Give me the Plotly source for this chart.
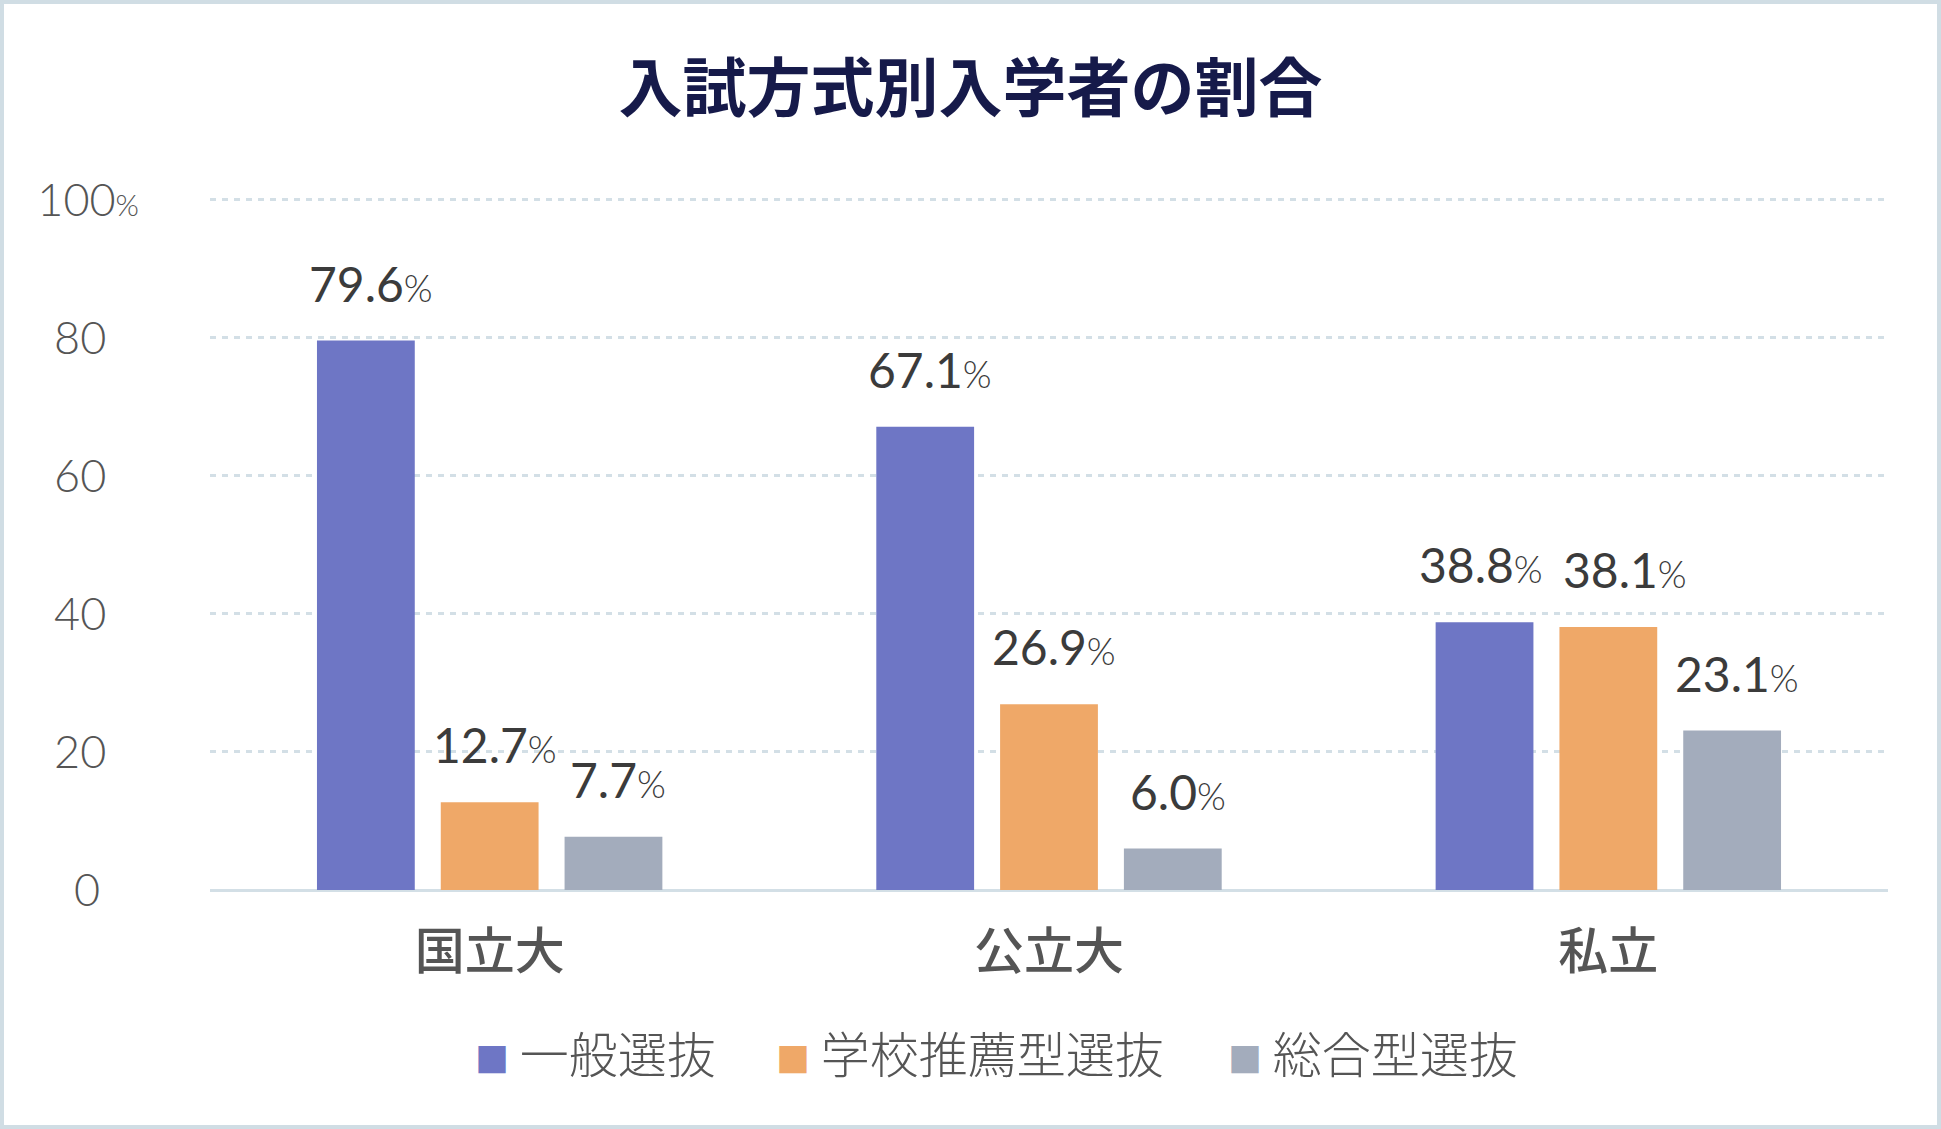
import plotly.graph_objects as go

# ---- data ----
categories = ["国立大", "公立大", "私立"]
series_names = ["一般選抜", "学校推薦型選抜", "総合型選抜"]
general = [79.6, 67.1, 38.8]
recommend = [12.7, 26.9, 38.1]
comprehensive = [7.7, 6.0, 23.1]
y_ticks = [0, 20, 40, 60, 80, 100]
title_text = "入試方式別入学者の割合"

series_values = [general, recommend, comprehensive]
colors = ["#6e76c5", "#efa868", "#a3acbc"]

W, H = 1941, 1129
ML, MR, MT, MB = 210, 53, 197, 239
PW = W - ML - MR
PH = H - MT - MB
BARGAP = 0.336
BARGROUPGAP = 0.21

CJK = "Noto Sans CJK JP"
NUM = "Lato"

fig = go.Figure()

for name, vals, col in zip(series_names, series_values, colors):
    fig.add_trace(go.Bar(
        x=categories, y=vals, name=name,
        marker=dict(color=col, line=dict(width=0)),
        hoverinfo="skip", showlegend=False,
    ))

# value labels above bars (offset to each bar's slot within its group)
n_series = len(series_values)
slot_px = (1 - BARGAP) * PW / len(categories) / n_series
for si, vals in enumerate(series_values):
    for ci, (cat, v) in enumerate(zip(categories, vals)):
        nudge = 5
        if si < n_series - 1 and abs(series_values[si + 1][ci] - v) < 3:
            nudge = -4
        if si > 0 and abs(series_values[si - 1][ci] - v) < 3:
            nudge = 17
        fig.add_annotation(
            x=cat, y=v, xref="x", yref="y",
            xanchor="center", yanchor="bottom", showarrow=False,
            xshift=(si - (n_series - 1) / 2) * slot_px + nudge, yshift=27,
            text=f"{v:.1f}<span style='font-size:37px;font-weight:300'>%</span>",
            font=dict(family=NUM, size=48, color="#3b3b3b"),
        )

tick_text = []
for t in y_ticks:
    if t == 100:
        tick_text.append(f"{t}<span style='font-size:30px'>%</span>")
    elif t == 0:
        tick_text.append(f"{t}<span style='font-size:50px;fill:rgba(0,0,0,0)'>%</span>")
    else:
        tick_text.append(f"{t}<span style='font-size:42px;fill:rgba(0,0,0,0)'>%</span>")

fig.update_layout(
    width=W, height=H,
    margin=dict(l=ML, r=MR, t=MT, b=MB),
    paper_bgcolor="white", plot_bgcolor="white",
    barmode="group", bargap=BARGAP, bargroupgap=BARGROUPGAP,
    title=dict(
        text=title_text, x=0.5, xref="container", xanchor="center",
        y=1 - 89 / H, yref="container", yanchor="middle",
        font=dict(family=CJK, size=64, color="#161a4a", weight=700),
    ),
    xaxis=dict(
        showgrid=False, showline=False, zeroline=False, ticks="",
        tickfont=dict(family=CJK, size=50, color="#555555", weight=500),
        ticklabelstandoff=28,
    ),
    yaxis=dict(
        range=[0, 100.4], tickvals=y_ticks, ticktext=tick_text,
        showgrid=True, gridcolor="#d3dfe6", gridwidth=3, griddash="6px,6px",
        zeroline=True, zerolinecolor="#d3dfe6", zerolinewidth=3,
        showline=False, ticks="",
        tickfont=dict(family=NUM, size=45, color="#555555", weight=300),
        ticklabelstandoff=70,
    ),
    showlegend=False,
)

# legend row (custom, for large square markers)
legend_x = [473, 774, 1226]
legend_y = 1051
for name, col, lx in zip(series_names, colors, legend_x):
    fig.add_annotation(
        xref="paper", yref="paper",
        x=(lx - ML) / PW, y=(H - MB - legend_y) / PH,
        xanchor="left", yanchor="middle", showarrow=False,
        text=f"<span style='color:{col};font-size:34px'>■</span> {name}",
        font=dict(family=CJK, size=49, color="#555555", weight=300),
    )

# outer border
fig.add_shape(
    type="rect", xref="paper", yref="paper",
    x0=(2 - ML) / PW, x1=(W - 2 - ML) / PW,
    y0=(H - MB - (H - 2)) / PH, y1=(H - MB - 2) / PH,
    line=dict(color="#d0dde4", width=4), fillcolor="rgba(0,0,0,0)", layer="below",
)

fig.write_html("out.html")
